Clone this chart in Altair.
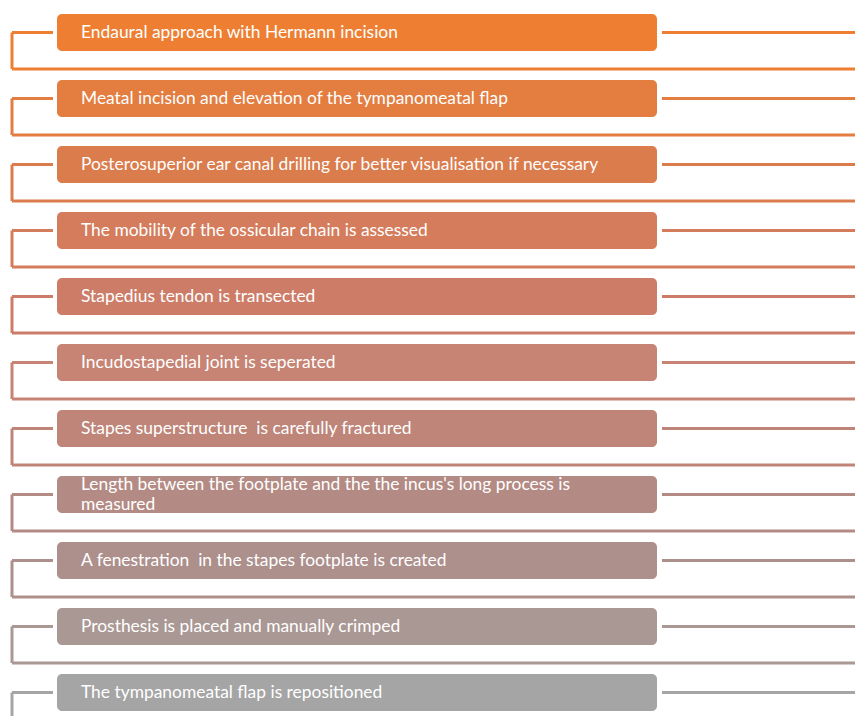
import altair as alt
import pandas as pd

steps = [
    "Endaural approach with Hermann incision",
    "Meatal incision and elevation of the tympanomeatal flap",
    "Posterosuperior ear canal drilling for better visualisation if necessary",
    "The mobility of the ossicular chain is assessed",
    "Stapedius tendon is transected",
    "Incudostapedial joint is seperated",
    "Stapes superstructure \u00a0is carefully fractured",
    "Length between the footplate and the the incus's long process is\nmeasured",
    "A fenestration \u00a0in the stapes footplate is created",
    "Prosthesis is placed and manually crimped",
    "The tympanomeatal flap is repositioned",
]
order = list(range(1, len(steps) + 1))
colors = ["#EE7F32", "#E37D40", "#DB7C4D", "#D47C5B", "#CD7D67", "#C78373",
          "#BE8578", "#B48B84", "#AD8F8C", "#AA9894", "#A5A5A5"]

df = pd.DataFrame({"order": order, "step": steps, "color": colors})

W, H = 847, 708
# one unit of "order" = 66 px, first box centre at 24.5 px from the top
y_scale = alt.Scale(domain=[1 - 24.5 / 66, 1 + (H - 24.5) / 66], reverse=True, nice=False, zero=False)
col = alt.Color("color:N", scale=None)

base = alt.Chart(df).transform_calculate(
    top="datum.order - 0.28",
    bottom="datum.order + 0.28",
    below="datum.order + 36.5/66",
    texty="datum.order - (length(split(datum.step, '\\n')) - 1) * 10/66",
)

boxes = base.mark_rect(cornerRadius=5, clip=True).encode(
    x=alt.value(49), x2=alt.value(649),
    y=alt.Y("top:Q", scale=y_scale, axis=None),
    y2="bottom:Q",
    color=col,
)

labels = base.mark_text(align="left", baseline="middle", font="Lato", fontSize=17.4,
                        color="white", lineBreak="\n", lineHeight=20, clip=True).encode(
    x=alt.value(73),
    y=alt.Y("texty:Q", scale=y_scale, axis=None),
    text="step:N",
)

left_tick = base.mark_rule(strokeWidth=3, clip=True).encode(
    x=alt.value(4), x2=alt.value(45),
    y=alt.Y("order:Q", scale=y_scale, axis=None),
    color=col,
)
left_vert = base.mark_rule(strokeWidth=3, clip=True).encode(
    x=alt.value(4),
    y=alt.Y("order:Q", scale=y_scale, axis=None),
    y2="below:Q",
    color=col,
)
bottom_line = base.mark_rule(strokeWidth=3, clip=True).encode(
    x=alt.value(4), x2=alt.value(W),
    y=alt.Y("below:Q", scale=y_scale, axis=None),
    color=col,
)
right_line = base.mark_rule(strokeWidth=3, clip=True).encode(
    x=alt.value(654), x2=alt.value(W),
    y=alt.Y("order:Q", scale=y_scale, axis=None),
    color=col,
)

chart = alt.layer(left_tick, left_vert, bottom_line, right_line, boxes, labels).properties(
    width=W, height=H,
    autosize=alt.AutoSizeParams(type="none"),
    padding=0,
).configure_view(stroke=None)

chart.save("out.html", embed_options={"renderer": "svg", "actions": False})
